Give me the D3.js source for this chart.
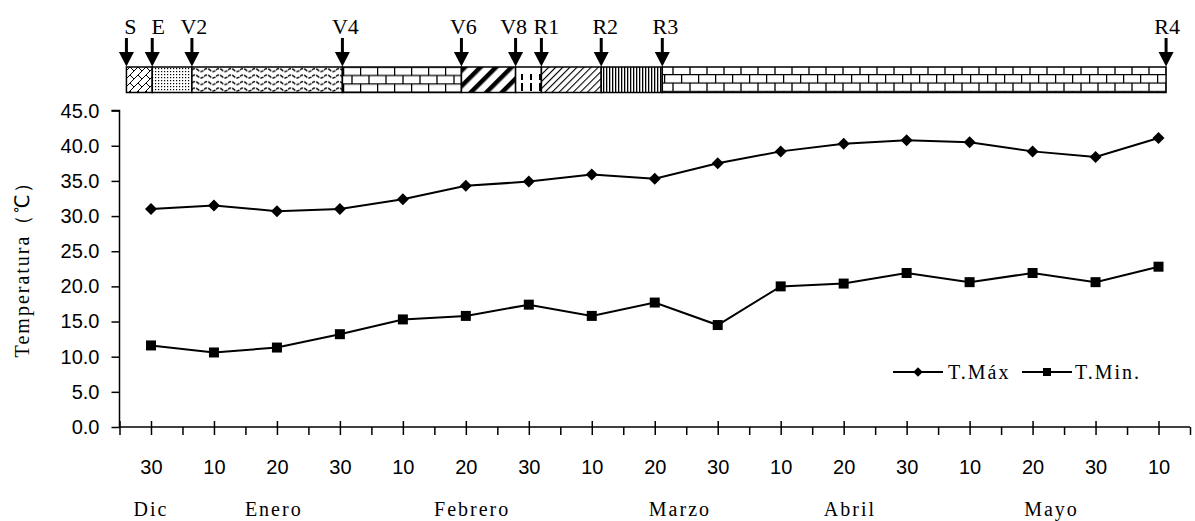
<!DOCTYPE html>
<html>
<head>
<meta charset="utf-8">
<script src="https://cdn.jsdelivr.net/npm/d3@7"></script>
<style>
  html, body { margin: 0; padding: 0; background: #fff; }
  svg { display: block; }
  .serif { font-family: "Liberation Serif", "Times New Roman", serif; }
  .sans { font-family: "Liberation Sans", Arial, sans-serif; }
</style>
</head>
<body>
<svg id="chart" width="1195" height="521"></svg>
<script>
// Dekad labels (day of month) and the month each group belongs to
const periods = ["30","10","20","30","10","20","30","10","20","30","10","20","30","10","20","30","10"];
const months = ["Dic","Enero","Febrero","Marzo","Abril","Mayo"];
const monthAt = [0, 1.95, 5.1, 8.4, 11.1, 14.3];

// Maximum and minimum temperature per dekad (°C)
const tMax = [31.0, 31.5, 30.7, 31.0, 32.4, 34.3, 34.9, 35.9, 35.3, 37.5, 39.2, 40.3, 40.8, 40.5, 39.2, 38.4, 41.1];
const tMin = [11.6, 10.6, 11.3, 13.2, 15.3, 15.8, 17.4, 15.8, 17.7, 14.5, 20.0, 20.4, 21.9, 20.6, 21.9, 20.6, 22.8];

// Phenological stages and when they occur (in dekad units from the first reading)
const stages = ["S","E","V2","V4","V6","V8","R1","R2","R3","R4"];
const stageAt = [-0.39, 0.02, 0.65, 3.04, 4.93, 5.79, 6.2, 7.15, 8.12, 16.12];

const yTicks = [0, 5, 10, 15, 20, 25, 30, 35, 40, 45];

// horizontal nudges (px) so neighbouring stage labels don't collide
const labelNudge = [4, 6, 2, 3, 2, -2, 5, 4, 3, 1];

const svg = d3.select("#chart");
const n = periods.length;

const x = d3.scaleLinear().domain([-0.5, n - 0.5]).range([119.5, 1190]);
const y = d3.scaleLinear().domain([0, 45]).range([427, 110.6]);

// ---------- fill patterns for the stage bar ----------
const defs = svg.append("defs");
function pat(id, w, h, transform) {
  const p = defs.append("pattern").attr("id", id)
    .attr("patternUnits", "userSpaceOnUse").attr("width", w).attr("height", h);
  if (transform) p.attr("patternTransform", transform);
  p.append("rect").attr("width", w).attr("height", h).attr("fill", "#fff");
  return p;
}
// weave
let p = pat("pWeave", 8, 8, "translate(126,67)");
p.append("path").attr("d", "M0,4 L4,0 M4,8 L8,4 M4,0 L8,4")
  .attr("stroke", "#000").attr("stroke-width", 1).attr("fill", "none");
// dots
p = pat("pDots", 3, 3, "translate(151,67)");
p.append("rect").attr("x", 1).attr("y", 1).attr("width", 1.2).attr("height", 1.2).attr("fill", "#000");
// waves
p = pat("pWave", 12, 6.5, "translate(192,66)");
p.append("path").attr("d", "M0,4 Q3,1 6,4 T12,4")
  .attr("stroke", "#000").attr("stroke-width", 1.4).attr("fill", "none").attr("stroke-dasharray", "3.5,1.2");
// bricks
p = pat("pBrick", 17, 16.8, "translate(343,66.5)");
p.append("path").attr("d", "M0,0.6 H17 M0,9 H17 M0.6,0.6 V9 M9,9 V16.8")
  .attr("stroke", "#000").attr("stroke-width", 1.3).attr("fill", "none");
// wide diagonal stripes
p = pat("pBold", 11, 11, "rotate(45)");
p.append("rect").attr("width", 4.5).attr("height", 11).attr("fill", "#000");
// dashed vertical
p = pat("pDash", 9, 26, "translate(518,67)");
p.append("path").attr("d", "M4,7 V13 M4,16 V24")
  .attr("stroke", "#000").attr("stroke-width", 2).attr("fill", "none");
// thin diagonal
p = pat("pThin", 5, 5, "rotate(45)");
p.append("rect").attr("width", 1.1).attr("height", 5).attr("fill", "#000");
// vertical lines
p = pat("pVert", 3, 10, "translate(602,0)");
p.append("rect").attr("x", 1).attr("width", 1.3).attr("height", 10).attr("fill", "#000");
// bricks (later stage)
p = pat("pBrick2", 17, 16.8, "translate(664,74)");
p.append("path").attr("d", "M0,0.6 H17 M0,9 H17 M0.6,0.6 V9 M9,9 V16.8")
  .attr("stroke", "#000").attr("stroke-width", 1.3).attr("fill", "none");

const fills = ["pWeave","pDots","pWave","pBrick","pBold","pDash","pThin","pVert","pBrick2"];

// ---------- stage bar ----------
const barTop = 67, barBot = 92.5;
const segs = d3.range(stages.length - 1).map(i => ({ a: stageAt[i], b: stageAt[i + 1], f: fills[i] }));
svg.append("g").selectAll("rect").data(segs).join("rect")
  .attr("x", d => x(d.a)).attr("y", barTop)
  .attr("width", d => x(d.b) - x(d.a)).attr("height", barBot - barTop)
  .attr("fill", d => `url(#${d.f})`)
  .attr("stroke", "#000").attr("stroke-width", 1.5);

// arrows and stage labels
const arrows = svg.append("g");
stages.forEach((s, i) => {
  const ax = x(stageAt[i]);
  arrows.append("line").attr("x1", ax).attr("x2", ax).attr("y1", 38).attr("y2", 54)
    .attr("stroke", "#000").attr("stroke-width", 3);
  arrows.append("path")
    .attr("d", `M${ax - 7.5},52 L${ax + 7.5},52 L${ax},66.5 Z`).attr("fill", "#000");
  arrows.append("text").attr("class", "serif")
    .attr("x", ax + labelNudge[i]).attr("y", 34).attr("text-anchor", "middle")
    .attr("font-size", 22).attr("fill", "#000").text(s);
});

// ---------- axes ----------
const yAxis = d3.axisLeft(y).tickValues(yTicks).tickSize(8).tickPadding(12)
  .tickFormat(d3.format(".1f"));
const gy = svg.append("g").attr("transform", `translate(${x(-0.5)},0)`).call(yAxis);
gy.select(".domain").attr("stroke-width", 1.5).attr("d", `M-8,${y(45)}H0V${y(0)}`);
gy.selectAll(".tick line").attr("stroke-width", 1.5);
gy.selectAll("text").attr("class", "sans").attr("font-size", 20).attr("fill", "#000");

const idx = d3.range(n);
const xAxis = d3.axisBottom(x).tickValues(idx).tickSize(8).tickPadding(25)
  .tickFormat(i => periods[i]);
const gx = svg.append("g").attr("transform", `translate(0,${y(0)})`).call(xAxis);
gx.select(".domain").attr("stroke-width", 1.5).attr("d", `M${x(-0.5)},0H${x(n - 0.5)}`);
gx.selectAll(".tick line").attr("y1", -6).attr("stroke-width", 1.5);
gx.selectAll("text").attr("class", "sans").attr("font-size", 20).attr("fill", "#000");

const xMinor = d3.axisBottom(x).tickValues(d3.range(-0.5, n, 1)).tickSize(8).tickFormat("");
const gm = svg.append("g").attr("transform", `translate(0,${y(0)})`).call(xMinor);
gm.select(".domain").remove();
gm.selectAll(".tick line").attr("stroke-width", 1.5);
gm.select(".tick line").attr("y1", -6);

// month labels
svg.append("g").selectAll("text").data(months).join("text")
  .attr("class", "serif")
  .attr("x", (m, i) => x(monthAt[i])).attr("y", 516)
  .attr("text-anchor", "middle").attr("font-size", 20).attr("letter-spacing", 2)
  .attr("fill", "#000").text(m => m);

// y axis title
svg.append("text").attr("class", "serif")
  .attr("transform", `translate(29,264) rotate(-90)`)
  .attr("text-anchor", "middle").attr("font-size", 20).attr("letter-spacing", 2)
  .attr("fill", "#000")
  .text("Temperatura（℃）");

// ---------- series ----------
const line = d3.line().x((d, i) => x(i)).y(d => y(d));
const diamond = d3.symbol(d3.symbolSquare, 72);
const square = d3.symbol(d3.symbolSquare, 100);

[[tMax, "max"], [tMin, "min"]].forEach(([data, key]) => {
  svg.append("path").datum(data).attr("d", line)
    .attr("fill", "none").attr("stroke", "#000").attr("stroke-width", 2);
  svg.append("g").selectAll("path").data(data).join("path")
    .attr("d", key === "max" ? diamond : square)
    .attr("transform", (d, i) => `translate(${x(i)},${y(d)})` + (key === "max" ? " rotate(45)" : ""))
    .attr("fill", "#000");
});

// ---------- legend ----------
const leg = svg.append("g").attr("transform", "translate(0,372)");
const legendItems = [
  { label: "T.Máx", x0: 893, x1: 943, sym: d3.symbol(d3.symbolSquare, 45), rot: 45, tx: 948 },
  { label: "T.Min.", x0: 1022, x1: 1072, sym: d3.symbol(d3.symbolSquare, 64), rot: 0, tx: 1075 }
];
legendItems.forEach(it => {
  leg.append("line").attr("x1", it.x0).attr("x2", it.x1).attr("y1", 0).attr("y2", 0)
    .attr("stroke", "#000").attr("stroke-width", 2);
  leg.append("path").attr("d", it.sym)
    .attr("transform", `translate(${(it.x0 + it.x1) / 2},0) rotate(${it.rot})`).attr("fill", "#000");
  leg.append("text").attr("class", "serif").attr("x", it.tx).attr("y", 6.5)
    .attr("font-size", 20).attr("letter-spacing", 2).attr("fill", "#000").text(it.label);
});
</script>
</body>
</html>
